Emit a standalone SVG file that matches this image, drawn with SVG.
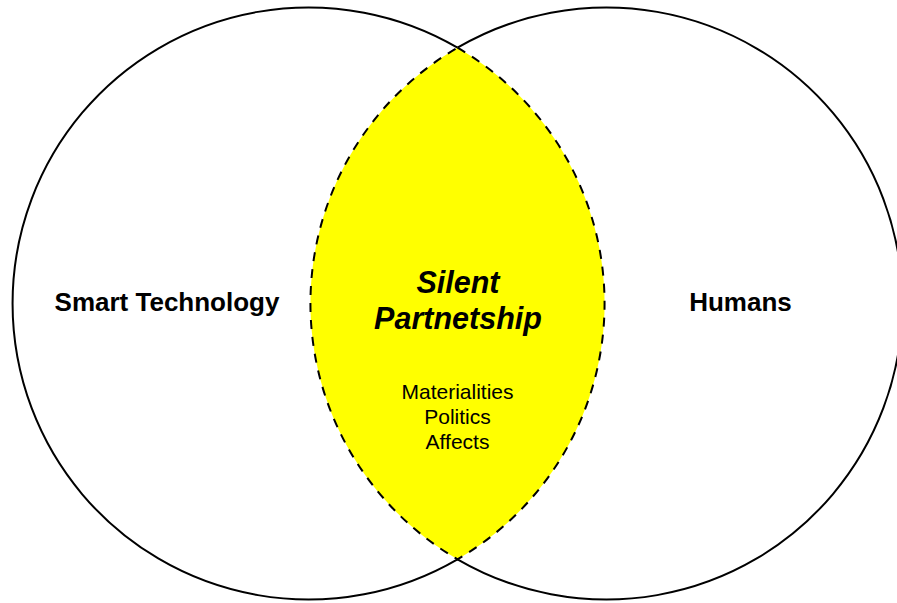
<svg xmlns="http://www.w3.org/2000/svg" width="897" height="603" viewBox="0 0 897 603">
  <style>
    .ring { fill: none; stroke: #000; stroke-width: 2; }
    .lens { fill: #ffff00; stroke: #000; stroke-width: 2; stroke-dasharray: 9 8; }
    .label { font-family: "Liberation Sans", Arial, sans-serif; font-weight: bold; font-size: 26px; fill: #000; text-anchor: middle; }
    .title { font-family: "Liberation Sans", Arial, sans-serif; font-weight: bold; font-style: italic; font-size: 30.5px; fill: #000; text-anchor: middle; }
    .item { font-family: "Liberation Sans", Arial, sans-serif; font-size: 21px; fill: #000; text-anchor: middle; }
  </style>
  <rect width="897" height="603" fill="#ffffff"/>

  <!-- Left set: outer arc of the circle centred at (308, 303.5), r = 296 -->
  <g id="smart-technology">
    <path class="ring" d="M 457.5 47.7 A 296 296 0 1 0 457.5 559.3"/>
    <text class="label" x="167" y="311">Smart Technology</text>
  </g>

  <!-- Right set: outer arc of the circle centred at (607, 303.5), r = 296 -->
  <g id="humans">
    <path class="ring" d="M 457.5 47.7 A 296 296 0 1 1 457.5 559.3"/>
    <text class="label" x="740.5" y="311">Humans</text>
  </g>

  <!-- Overlap of the two sets -->
  <g id="silent-partnership">
    <path class="lens" d="M 457.5 47.7 A 296 296 0 0 1 457.5 559.3 A 296 296 0 0 1 457.5 47.7 Z"/>
    <text class="title" x="458" y="293">Silent</text>
    <text class="title" x="458" y="329">Partnetship</text>
    <text class="item" x="457.5" y="399">Materialities</text>
    <text class="item" x="457.5" y="424">Politics</text>
    <text class="item" x="457.5" y="449">Affects</text>
  </g>
</svg>
